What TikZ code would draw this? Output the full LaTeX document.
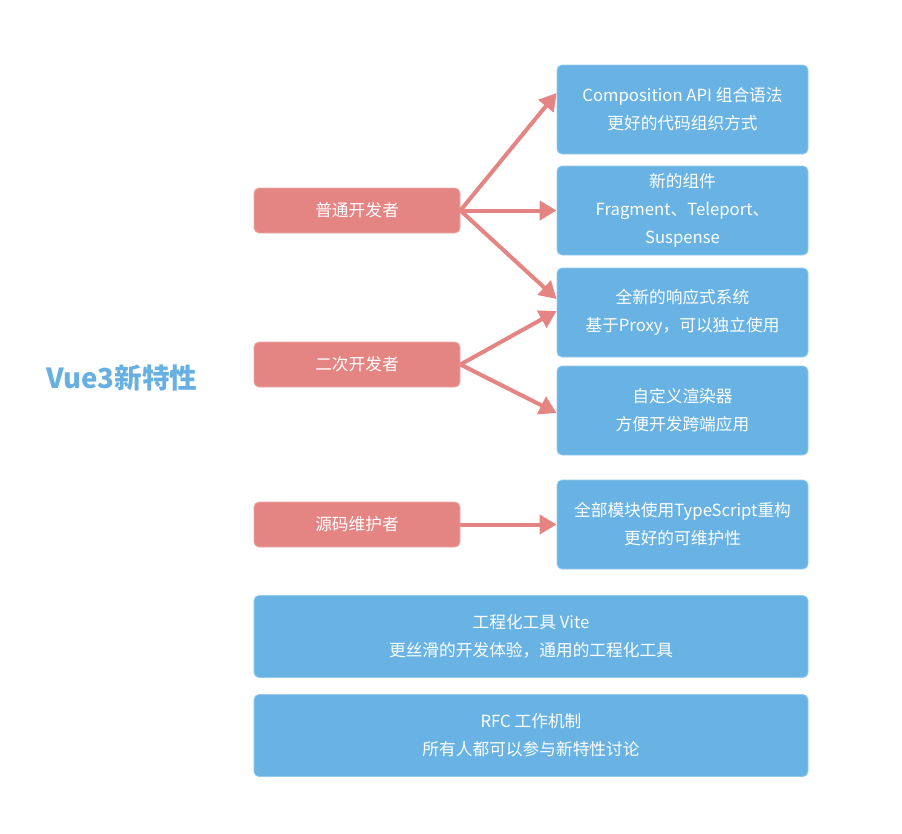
\documentclass[tikz,border=0pt]{standalone}
\usepackage{fontspec}
\setmainfont{Noto Sans CJK SC}
\usetikzlibrary{arrows.meta,calc}
\definecolor{pinkc}{HTML}{E48584}
\definecolor{bluec}{HTML}{69B3E4}
\definecolor{titlec}{HTML}{69B0E2}
\tikzset{
  pinkbox/.style={rectangle, rounded corners=5pt, fill=pinkc, draw=pinkc!70!white, line width=0.8pt,
    minimum width=206pt, minimum height=45pt, inner sep=0pt, text=white, align=center,
    font=\fontsize{16.7}{28}\selectfont},
  bluebox/.style={rectangle, rounded corners=5pt, fill=bluec, draw=bluec!70!white, line width=0.8pt,
    minimum width=251pt, minimum height=89pt, inner sep=0pt, text=white, align=center,
    font=\fontsize{16.7}{28}\selectfont},
  widebox/.style={bluebox, minimum width=554pt, minimum height=82pt},
  conn/.style={draw=pinkc, line width=4pt, -{Triangle[length=17pt,width=19pt]}},
}
\begin{document}
\begin{tikzpicture}[x=1pt,y=-1pt]
\useasboundingbox (0,0) rectangle (902,833);
\fill[white] (0,0) rectangle (902,833);

\node[text=titlec, font=\fontsize{27.6}{30}\selectfont\bfseries] (title) at (122,378) {Vue3新特性};

\node[pinkbox] (p1) at (357,210.5) {普通开发者};
\node[pinkbox] (p2) at (357,364.5) {二次开发者};
\node[pinkbox] (p3) at (357,524.5) {源码维护者};

\node[bluebox] (b1) at (682.5,109.5) {Composition API 组合语法\\更好的代码组织方式};
\node[bluebox] (b2) at (682.5,210.5) {新的组件\\Fragment、Teleport、\\Suspense};
\node[bluebox] (b3) at (682.5,312.5) {全新的响应式系统\\基于Proxy，可以独立使用};
\node[bluebox] (b4) at (682.5,410.5) {自定义渲染器\\方便开发跨端应用};
\node[bluebox] (b5) at (682.5,524.5) {全部模块使用TypeScript重构\\更好的可维护性};

\node[widebox] (w1) at (531,636.5) {工程化工具 Vite\\更丝滑的开发体验，通用的工程化工具};
\node[widebox] (w2) at (531,735.5) {RFC 工作机制\\所有人都可以参与新特性讨论};

\draw[conn] (p1.east) -- ([yshift=16.5pt]b1.west);
\draw[conn] (p1.east) -- (b2.west);
\draw[conn] (p1.east) -- ([yshift=13.5pt]b3.west);
\draw[conn] (p2.east) -- ([yshift=1.5pt]b3.west);
\draw[conn] (p2.east) -- ([yshift=-2.5pt]b4.west);
\draw[conn] (p3.east) -- (b5.west);
\end{tikzpicture}
\end{document}
